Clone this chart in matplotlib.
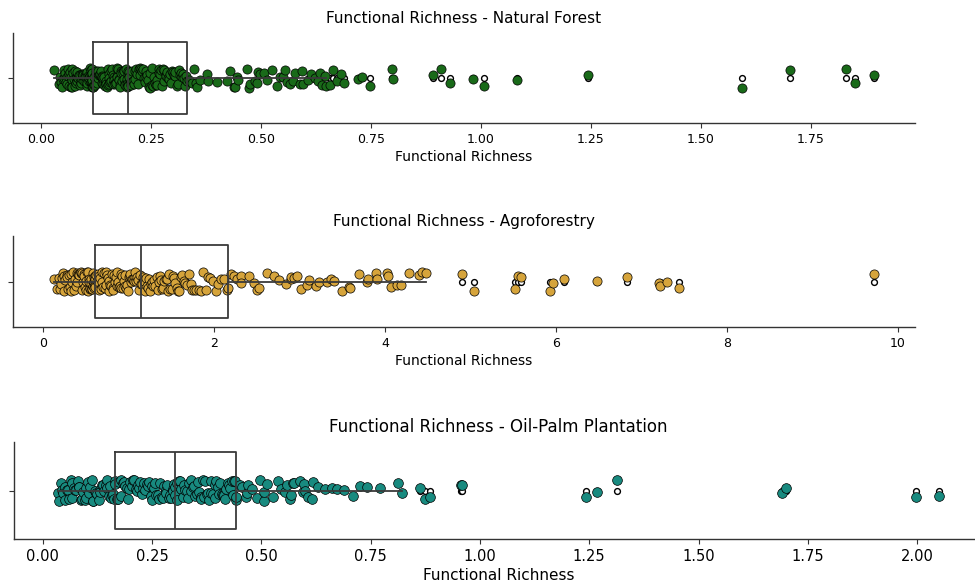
import numpy as np
import matplotlib
matplotlib.use("Agg")
import matplotlib.pyplot as plt
import seaborn as sns

# ---------------- data ----------------
forest_richness = [
    0.030, 0.041, 0.043, 0.047, 0.048, 0.051, 0.052, 0.053, 0.056, 0.057,
    0.058, 0.059, 0.061, 0.062, 0.064, 0.064, 0.066, 0.068, 0.069, 0.071,
    0.072, 0.072, 0.074, 0.075, 0.077, 0.078, 0.079, 0.080, 0.082, 0.083,
    0.083, 0.085, 0.086, 0.088, 0.089, 0.090, 0.091, 0.093, 0.093, 0.095,
    0.096, 0.097, 0.099, 0.100, 0.101, 0.102, 0.103, 0.104, 0.106, 0.106,
    0.107, 0.109, 0.110, 0.110, 0.111, 0.112, 0.113, 0.114, 0.115, 0.115,
    0.116, 0.116, 0.117, 0.117, 0.117, 0.117, 0.118,
    0.119, 0.121, 0.122, 0.123, 0.125, 0.126, 0.128, 0.128, 0.130, 0.131,
    0.133, 0.134, 0.135, 0.136, 0.138, 0.139, 0.140, 0.142, 0.142, 0.144,
    0.145, 0.147, 0.148, 0.149, 0.150, 0.152, 0.153, 0.154, 0.156, 0.156,
    0.158, 0.159, 0.160, 0.162, 0.163, 0.164, 0.166, 0.167, 0.168, 0.169,
    0.171, 0.172, 0.173, 0.174, 0.176, 0.177, 0.178, 0.180, 0.181, 0.182,
    0.183, 0.185, 0.186, 0.187, 0.188, 0.190, 0.191, 0.192, 0.193, 0.195,
    0.196, 0.196, 0.197, 0.197, 0.197, 0.198,
    0.200, 0.201, 0.204, 0.205, 0.207, 0.210, 0.211, 0.213, 0.215, 0.217,
    0.219, 0.221, 0.222, 0.225, 0.226, 0.228, 0.230, 0.233, 0.234, 0.236,
    0.238, 0.240, 0.242, 0.243, 0.246, 0.247, 0.249, 0.252, 0.253, 0.255,
    0.257, 0.260, 0.261, 0.263, 0.265, 0.268, 0.269, 0.271, 0.274, 0.275,
    0.277, 0.280, 0.281, 0.284, 0.285, 0.287, 0.290, 0.291, 0.294, 0.296,
    0.298, 0.300, 0.303, 0.305, 0.306, 0.309, 0.311, 0.314, 0.316, 0.318,
    0.321, 0.323, 0.326, 0.328, 0.331, 0.332,
    0.336, 0.343, 0.347, 0.352, 0.354, 0.362, 0.377, 0.381, 0.400, 0.423,
    0.430, 0.438, 0.441, 0.445, 0.449, 0.468, 0.472, 0.475, 0.487, 0.491,
    0.494, 0.498, 0.506, 0.513, 0.525, 0.536, 0.543, 0.551, 0.555, 0.559,
    0.566, 0.574, 0.577, 0.589, 0.593, 0.596, 0.608, 0.615, 0.623, 0.630,
    0.634, 0.638, 0.646, 0.649,
    0.656, 0.664, 0.672, 0.681, 0.690, 0.721, 0.729, 0.748, 0.797, 0.801,
    0.891, 0.910, 0.930, 0.982, 1.008, 1.083, 1.244, 1.593, 1.702, 1.829,
    1.850, 1.893,
]

agro_richness = [
    0.130, 0.168, 0.185, 0.197, 0.212, 0.221, 0.236, 0.244, 0.251, 0.263,
    0.277, 0.285, 0.292, 0.304, 0.318, 0.326, 0.331, 0.345, 0.352, 0.367,
    0.374, 0.382, 0.395, 0.401, 0.413, 0.422, 0.428, 0.441, 0.449, 0.456,
    0.463, 0.472, 0.480, 0.486, 0.494, 0.503, 0.509, 0.515, 0.522, 0.528,
    0.534, 0.541, 0.547, 0.552, 0.558, 0.563, 0.569, 0.574, 0.579, 0.584,
    0.589, 0.593, 0.597, 0.600, 0.603, 0.605, 0.607, 0.608,
    0.615, 0.624, 0.633, 0.641, 0.652, 0.660, 0.668, 0.679, 0.688, 0.695,
    0.706, 0.714, 0.722, 0.733, 0.741, 0.750, 0.761, 0.769, 0.778, 0.788,
    0.797, 0.805, 0.815, 0.824, 0.833, 0.842, 0.851, 0.862, 0.871, 0.880,
    0.891, 0.900, 0.909, 0.918, 0.929, 0.938, 0.947, 0.957, 0.966, 0.976,
    0.985, 0.995, 1.004, 1.014, 1.023, 1.034, 1.043, 1.053, 1.062, 1.073,
    1.082, 1.092, 1.103, 1.114, 1.125, 1.137, 1.146,
    1.155, 1.168, 1.179, 1.192, 1.204, 1.217, 1.228, 1.241, 1.253, 1.266,
    1.279, 1.290, 1.304, 1.316, 1.329, 1.342, 1.355, 1.368, 1.381, 1.394,
    1.408, 1.421, 1.435, 1.448, 1.462, 1.476, 1.490, 1.505, 1.519, 1.534,
    1.549, 1.564, 1.580, 1.596, 1.613, 1.630, 1.648, 1.667, 1.686, 1.706,
    1.727, 1.749, 1.772, 1.796, 1.821, 1.847, 1.874, 1.902, 1.931, 1.960,
    1.990, 2.020, 2.051, 2.083, 2.115, 2.148, 2.160,
    2.195, 2.240, 2.270, 2.312, 2.320, 2.409, 2.468, 2.507, 2.526, 2.624,
    2.702, 2.760, 2.838, 2.897, 2.905, 2.936, 2.975, 3.014, 3.092, 3.111,
    3.189, 3.228, 3.326, 3.365, 3.404, 3.501, 3.579, 3.591, 3.696, 3.793,
    3.801, 3.891, 3.910, 4.027, 4.035, 4.066, 4.144, 4.183, 4.281, 4.398,
    4.437, 4.476,
    4.905, 5.040, 5.520, 5.560, 5.590, 5.930, 5.970, 6.090, 6.480, 6.830,
    7.200, 7.220, 7.300, 7.440, 9.720,
]

oilpalm_richness = [
    0.035, 0.038, 0.042, 0.044, 0.047, 0.051, 0.052, 0.056, 0.058, 0.060,
    0.064, 0.066, 0.068, 0.072, 0.074, 0.076, 0.080, 0.082, 0.084, 0.088,
    0.090, 0.092, 0.096, 0.098, 0.100, 0.104, 0.106, 0.108, 0.112, 0.114,
    0.116, 0.120, 0.122, 0.124, 0.128, 0.130, 0.132, 0.136, 0.138, 0.140,
    0.144, 0.146, 0.148, 0.152, 0.154, 0.156, 0.159, 0.161, 0.163, 0.165,
    0.166,
    0.169, 0.171, 0.175, 0.178, 0.180, 0.183, 0.187, 0.189, 0.192, 0.196,
    0.198, 0.200, 0.204, 0.206, 0.209, 0.213, 0.215, 0.217, 0.221, 0.223,
    0.226, 0.230, 0.232, 0.234, 0.238, 0.240, 0.243, 0.247, 0.249, 0.251,
    0.255, 0.257, 0.260, 0.264, 0.266, 0.268, 0.272, 0.274, 0.277, 0.281,
    0.283, 0.285, 0.289, 0.291, 0.294, 0.297, 0.299, 0.301, 0.302, 0.303,
    0.306, 0.308, 0.312, 0.315, 0.317, 0.321, 0.323, 0.326, 0.330, 0.332,
    0.335, 0.338, 0.340, 0.344, 0.346, 0.349, 0.353, 0.355, 0.357, 0.361,
    0.363, 0.366, 0.370, 0.372, 0.375, 0.378, 0.380, 0.384, 0.386, 0.389,
    0.393, 0.395, 0.397, 0.401, 0.403, 0.406, 0.410, 0.412, 0.415, 0.418,
    0.420, 0.424, 0.426, 0.429, 0.432, 0.435, 0.437, 0.440, 0.442, 0.443,
    0.451, 0.455, 0.466, 0.468, 0.470, 0.478, 0.489, 0.497, 0.505, 0.506,
    0.512, 0.527, 0.539, 0.546, 0.554, 0.558, 0.566, 0.569, 0.573, 0.575,
    0.588, 0.596, 0.598, 0.600, 0.607, 0.615, 0.619, 0.630, 0.646, 0.661,
    0.672, 0.688, 0.710, 0.726, 0.741, 0.771, 0.813, 0.821,
    0.862, 0.875, 0.885, 0.957, 0.960, 1.243, 1.267, 1.313, 1.690, 1.699,
    1.998, 2.050,
]

titles = [
    "Functional Richness - Natural Forest",
    "Functional Richness - Agroforestry",
    "Functional Richness - Oil-Palm Plantation",
]
x_label = "Functional Richness"
colors = ["#196a19", "#d6a43b", "#188a7f"]

# ---------------- layout ----------------
np.random.seed(7)
W, H = 975, 583
fig = plt.figure(figsize=(W / 100, H / 100), dpi=100)


def px_axes(l, t, r, b):
    return fig.add_axes([l / W, 1 - b / H, (r - l) / W, (b - t) / H])


panels = [
    (forest_richness, titles[0], colors[0], (13, 33, 915, 123), 11, 10, 9, 6.6),
    (agro_richness, titles[1], colors[1], (13, 236, 915, 327), 11, 10, 9, 6.6),
    (oilpalm_richness, titles[2], colors[2], (14, 442, 983, 539), 12, 11, 10.5, 7.0),
]

line_color = "#3a3a3a"

for data, title, color, box, tsize, lsize, ksize, msize in panels:
    ax = px_axes(*box)
    bp = ax.boxplot(
        data, orientation="horizontal", positions=[0], widths=0.8,
        showcaps=False, whis=1.5,
        boxprops=dict(color=line_color, linewidth=1.3),
        medianprops=dict(color=line_color, linewidth=1.3),
        whiskerprops=dict(color=line_color, linewidth=1.3),
        flierprops=dict(marker="o", markersize=4.2, markerfacecolor="white",
                        markeredgecolor="black", markeredgewidth=1.0),
    )
    for f in bp["fliers"]:
        f.set_zorder(0.5)
    for key in ("boxes", "medians", "whiskers"):
        for ln in bp[key]:
            ln.set_zorder(3)

    sns.stripplot(x=data, ax=ax, color=color, edgecolor="black",
                  linewidth=0.5, size=msize, jitter=0.11, zorder=2)

    ax.set_ylim(0.5, -0.5)
    ax.set_yticks([0])
    ax.set_yticklabels([""])
    ax.set_title(title, fontsize=tsize, pad=7)
    ax.set_xlabel(x_label, fontsize=lsize, labelpad=3)
    ax.tick_params(axis="x", labelsize=ksize, length=3.5, color="#333333")
    ax.tick_params(axis="y", length=3.5, color="#333333")
    for s in ("top", "right"):
        ax.spines[s].set_visible(False)
    for s in ("left", "bottom"):
        ax.spines[s].set_color("#333333")
        ax.spines[s].set_linewidth(1.0)

fig.savefig("out.png", dpi=100, facecolor="white")
